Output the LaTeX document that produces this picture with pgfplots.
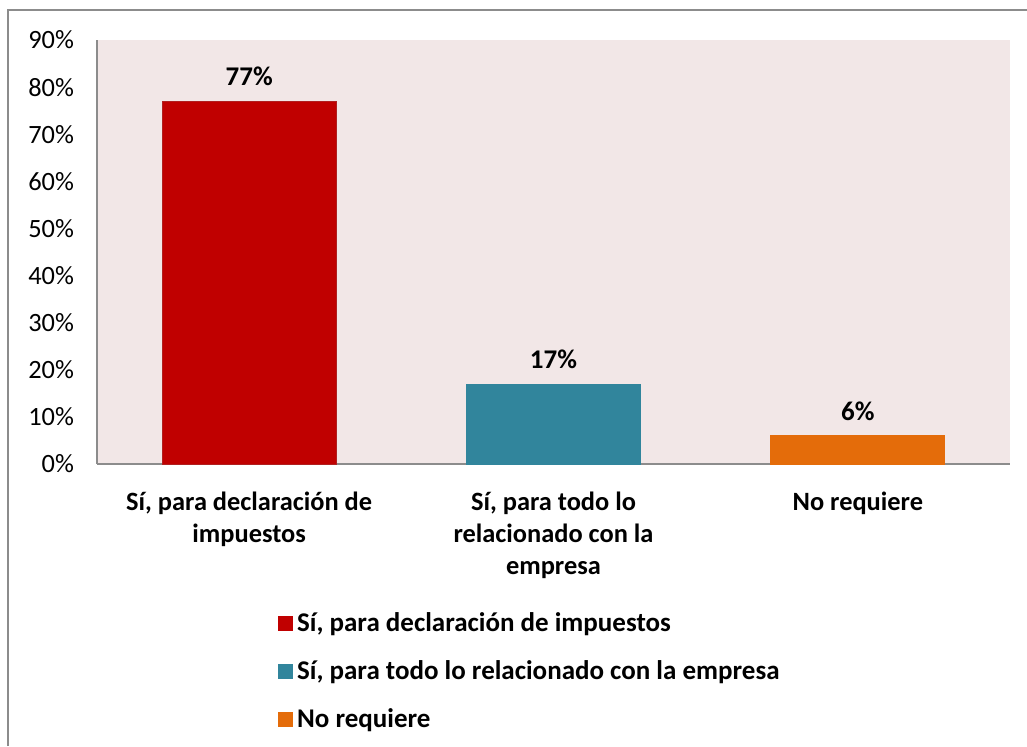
\documentclass[border=0pt]{standalone}
\usepackage{pgfplots}
\pgfplotsset{compat=1.18}
\usepackage{fontspec}
\setmainfont{Carlito}
\definecolor{cRed}{HTML}{C00000}
\definecolor{cTeal}{HTML}{31859C}
\definecolor{cOrange}{HTML}{E46C0A}
\definecolor{cBg}{HTML}{F2E7E7}
\definecolor{cAxis}{HTML}{8C8C8C}
\begin{document}
\begin{tikzpicture}
\useasboundingbox (0pt,0pt) rectangle (513.5pt,373pt);
\draw[cAxis,line width=1.2pt] (4pt,0pt) -- (4pt,368pt) -- (513.5pt,368pt);
\begin{axis}[
  at={(48.5pt,141pt)}, anchor=south west,
  scale only axis,
  width=456.5pt, height=212pt,
  xmin=-0.5, xmax=2.5,
  ymin=0, ymax=90,
  ytick={0,10,...,90},
  yticklabel={\pgfmathprintnumber{\tick}\%},
  /pgf/number format/assume math mode=true,
  xtick={0,1,2},
  xticklabels={{Sí, para declaración de\\impuestos},{Sí, para todo lo\\relacionado con la\\empresa},{No requiere}},
  xticklabel style={font=\fontsize{13.2}{16}\selectfont\bfseries, align=center, yshift=-6pt},
  yticklabel style={font=\fontsize{13.2}{15}\selectfont, xshift=-8pt},
  tick style={draw=none},
  axis x line*=bottom, axis y line*=left,
  axis line style={cAxis, line width=0.8pt, -},
  axis background/.style={fill=cBg},
  ybar, bar shift=0pt, bar width=87pt,
  nodes near coords={\pgfmathprintnumber{\pgfplotspointmeta}\%},
  nodes near coords style={font=\fontsize{13.5}{15}\selectfont\bfseries, yshift=4pt},
  legend style={at={(0.198,-0.34)}, anchor=north west, draw=none, fill=none,
    font=\fontsize{13.5}{15}\selectfont\bfseries, row sep=9pt, inner sep=0pt},
  legend cell align=left,
  legend image code/.code={\draw[#1,draw=none] (0pt,-3.75pt) rectangle (7.5pt,3.75pt);},
]
\addplot[fill=cRed, draw=cRed!75!gray] coordinates {(0,77)};
\addlegendentry{Sí, para declaración de impuestos}
\addplot[fill=cTeal, draw=cTeal] coordinates {(1,17)};
\addlegendentry{Sí, para todo lo relacionado con la empresa}
\addplot[fill=cOrange, draw=cOrange] coordinates {(2,6)};
\addlegendentry{No requiere}
\end{axis}
\end{tikzpicture}
\end{document}
